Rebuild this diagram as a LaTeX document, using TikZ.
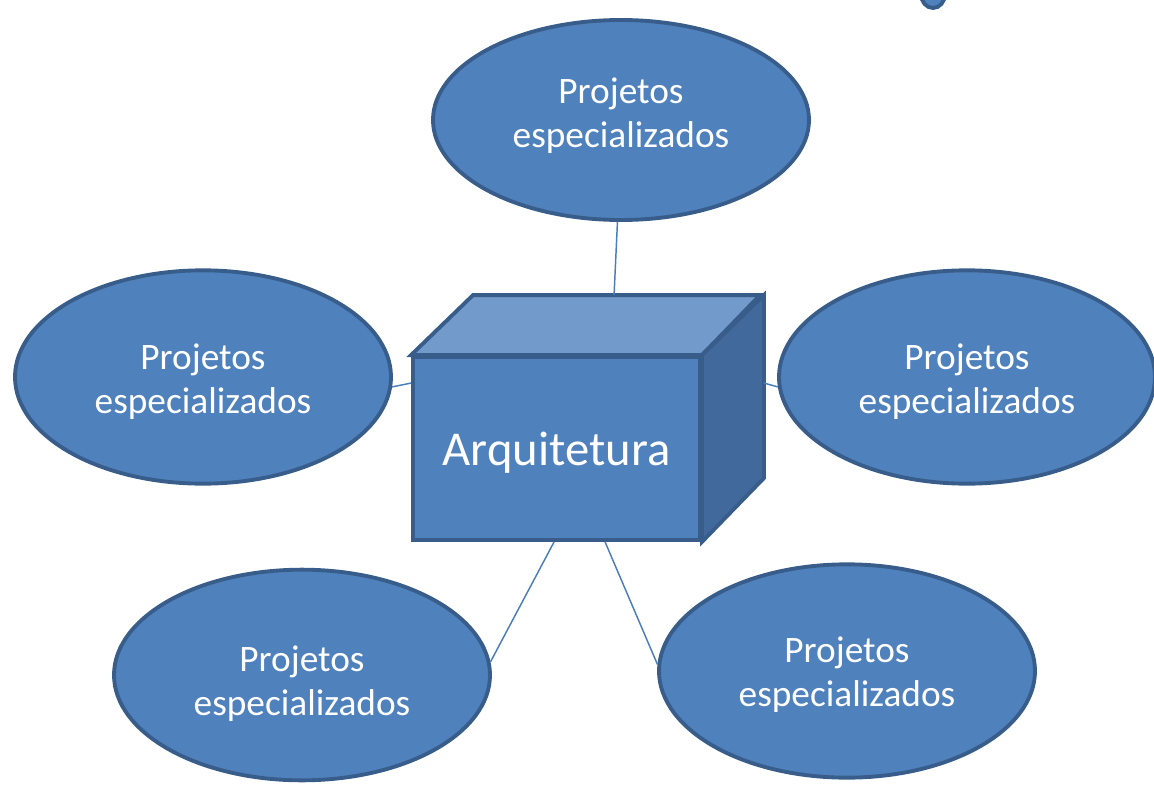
\documentclass[tikz,border=0pt]{standalone}
\usepackage{fontspec}
\setmainfont{Carlito}
\usetikzlibrary{shapes.geometric,calc}
\definecolor{fillb}{HTML}{4F81BD}
\definecolor{edgeb}{HTML}{385D8A}
\definecolor{topb}{HTML}{729ACA}
\definecolor{sideb}{HTML}{41699B}
\definecolor{lineb}{HTML}{4A7EBB}
\tikzset{
  proj/.style={ellipse, draw=edgeb, line width=2.9pt, fill=fillb,
    inner sep=0pt, minimum width=282pt, minimum height=#1},
  proj/.default=160pt,
  ptext/.style={text=white, align=center, inner sep=0pt,
    font=\fontsize{28}{33}\selectfont},
  face/.style={draw=edgeb, line width=2.9pt, line join=miter},
  conn/.style={draw=lineb, line width=1.1pt}
}
\begin{document}
\begin{tikzpicture}[x=0.75pt,y=-0.75pt]
\useasboundingbox (0,0) rectangle (1154,785);
\begin{scope}
\clip (0,0) rectangle (1154,785);
\fill[fillb, draw=edgeb, line width=2.9pt] (933,-6) ellipse [x radius=12, y radius=14];
\end{scope}
% cube
\node[face, fill=fillb, minimum width=215.25pt, minimum height=137.25pt, inner sep=0pt] (arq) at (556.5,448.5) {};
\node[text=white, font=\fontsize{36.5}{40}\selectfont] (arqt) at ($(arq.center)+(0,4)$) {Arquitetura};
\draw[face, fill=topb] (arq.north west) -- ++(62,-60) -- ++(287,0) -- (arq.north east) -- cycle;
\draw[face, fill=sideb] (arq.north east) -- ++(62,-60) -- ++(0,183) -- (arq.south east) -- cycle;
\coordinate (ctop) at ($(arq.north west)+(203,-60)$);
\coordinate (cleft) at ($(arq.north west)+(0,28)$);
\coordinate (cright) at ($(arq.north east)+(62,28)$);
\coordinate (cbl) at ($(arq.south west)+(143,0)$);
\coordinate (cbr) at ($(arq.south west)+(194,0)$);
% ellipses
\node[proj=150pt] (top) at (621,120) {};
\node[proj] (left) at (203,377) {};
\node[proj] (right) at (967,377) {};
\node[proj=158pt] (bl) at (302,675) {};
\node[proj] (br) at (847,671) {};
\node[ptext] (topt) at ($(top.center)+(0,-4)$) {Projetos\\especializados};
\node[ptext] (leftt) at ($(left.center)+(0,5)$) {Projetos\\especializados};
\node[ptext] (rightt) at ($(right.center)+(0,5)$) {Projetos\\especializados};
\node[ptext] (blt) at ($(bl.center)+(0,9)$) {Projetos\\especializados};
\node[ptext] (brt) at ($(br.center)+(0,4)$) {Projetos\\especializados};
% connectors
\draw[conn] (top.-92) -- (ctop);
\draw[conn] (left.-3) -- (cleft);
\draw[conn] (right.183) -- (cright);
\draw[conn] (bl.4) -- (cbl);
\draw[conn] (br.178) -- (cbr);
\end{tikzpicture}
\end{document}
